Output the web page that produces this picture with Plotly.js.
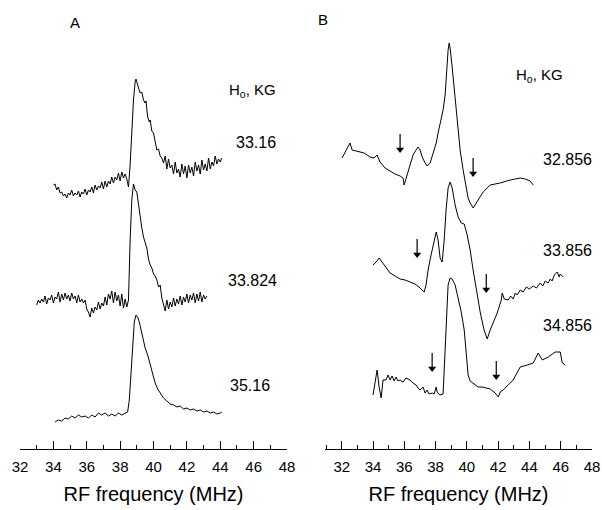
<!DOCTYPE html>
<html>
<head>
<meta charset="utf-8">
<script src="https://cdn.plot.ly/plotly-3.0.1.min.js"></script>
<style>html,body{margin:0;padding:0;background:#fff;}#chart{width:602px;height:510px;}</style>
</head>
<body>
<div id="chart"></div>
<script>
// ---------- Panel A (H0 in kG) ----------
const fieldsA = ['33.16', '33.824', '35.16'];
const freqA1 = [34.0,34.1,34.2,34.3,34.4,34.5,34.6,34.7,34.8,34.9,35.0,35.1,35.2,35.3,35.4,35.5,35.6,35.7,35.8,35.9,36.0,36.1,36.2,36.3,36.4,36.5,36.6,36.7,36.8,36.9,37.0,37.1,37.2,37.3,37.4,37.5,37.6,37.7,37.8,37.9,38.0,38.1,38.2,38.3,38.4,38.5,
  38.6,38.7,38.8,38.9,38.95,39.05,39.1,39.2,39.3,39.4,39.5,39.55,39.65,39.75,39.8,39.9,40.0,40.1,40.2,40.3,40.4,40.5,
  40.6,40.7,40.8,40.9,41.0,41.1,41.2,41.3,41.4,41.5,41.6,41.7,41.8,41.9,42.0,42.1,42.2,42.3,42.4,42.5,42.6,42.7,42.8,42.9,43.0,43.1,43.2,43.3,43.4,43.5,43.6,43.7,43.8,43.9,44.0,44.1];
const intA1 = [264,265,259,262,256,257,253,255,251,256,254,259,253,256,254,258,252,257,255,260,254,259,257,262,256,264,259,263,261,267,260,268,262,268,265,272,266,272,269,276,268,277,271,275,270,262,
  284,319,349,367,370,364,361,356,357,349,346,348,332,327,329,318,316,307,299,300,293,291,
  286,293,280,290,281,284,275,287,276,280,272,285,275,283,271,284,276,282,273,287,278,284,275,289,279,285,278,291,280,287,283,293,285,290,287,291];

const freqA2 = [33.0,33.1,33.2,33.3,33.4,33.5,33.6,33.7,33.8,33.9,34.0,34.1,34.2,34.3,34.4,34.5,34.6,34.7,34.8,34.9,35.0,35.1,35.2,35.3,35.4,35.5,35.6,35.7,35.8,35.9,36.0,36.1,36.2,36.3,36.4,36.5,36.6,36.7,36.8,36.9,37.0,37.1,37.2,37.3,37.4,37.5,37.6,37.7,37.8,37.9,38.0,38.1,38.2,38.3,38.4,38.5,
  38.6,38.7,38.8,38.9,39.0,39.1,39.2,39.3,39.4,39.5,39.6,39.7,39.8,39.9,40.0,40.1,40.2,40.3,40.4,40.5,40.6,40.7,40.8,40.9,41.0,41.1,41.2,41.3,41.4,41.5,41.6,41.7,41.8,41.9,42.0,42.1,42.2,42.3,42.4,42.5,42.6,42.7,42.8,42.9,43.0,43.1,43.2];
const intA2 = [144,149,146,150,147,153,145,151,149,154,146,152,150,157,147,155,149,156,150,154,148,156,150,153,146,154,147,150,146,149,140,137,132,141,136,142,139,147,140,146,143,152,144,155,150,158,146,157,148,154,143,155,141,150,142,149,
  209,249,265,259,257,244,229,221,212,207,201,190,184,181,175,173,169,162,164,151,144,138,149,140,147,142,151,143,150,145,153,144,152,147,155,146,154,149,156,146,155,148,157,147,154,150,153];

const freqA3 = [34.1,34.3,34.5,34.7,34.9,35.1,35.3,35.5,35.7,35.9,36.1,36.3,36.5,36.7,36.9,37.1,37.3,37.5,37.7,37.9,38.1,38.3,38.45,38.55,38.65,38.75,38.85,38.95,39.05,39.15,39.25,39.35,39.5,39.65,39.8,39.95,40.1,40.25,40.4,40.6,40.8,41.0,41.2,41.4,41.6,41.8,42.0,42.2,42.4,42.6,42.8,43.0,43.2,43.4,43.6,43.8,44.0,44.1];
const intA3 = [27,29,28,31,30,33,31,34,32,33,31,34,32,36,34,36,33,35,33,36,34,36,37,49,74,104,127,134,132,127,119,111,101,94,84,74,66,60,56,51,48,45,44,42,43,40,41,39,40,38,39,37,38,36,37,35,36,37];

// ---------- Panel B (H0 in kG) ----------
const fieldsB = ['32.856', '33.856', '34.856'];
const freqB1 = [32.02,32.53,32.66,32.92,33.17,33.43,33.81,34.07,34.26,34.45,34.77,35.09,35.41,35.73,35.92,35.99,36.24,36.56,36.75,36.88,37.01,37.14,37.33,37.46,37.65,37.84,38.04,38.16,38.35,38.48,38.61,38.67,38.80,38.87,38.93,39.06,39.19,39.32,39.44,39.57,39.76,39.89,40.08,40.21,40.40,40.60,40.72,41.04,41.49,42.13,42.77,43.41,43.73,44.05,44.24];
const intB1 = [291,306,299,298,297,296,292,291,294,287,281,278,275,273,271,264,277,294,299,302,299,292,286,283,286,296,306,316,329,339,354,372,399,406,401,382,359,339,319,299,279,266,251,246,241,246,249,257,264,266,269,271,270,268,264];

const freqB2 = [34.00,34.20,34.39,34.58,34.83,35.09,35.41,35.73,36.05,36.37,36.69,37.01,37.27,37.39,37.52,37.71,37.91,38.04,38.16,38.29,38.42,38.55,38.67,38.80,38.93,39.06,39.25,39.44,39.64,39.83,40.02,40.21,40.40,40.60,40.85,41.10,41.30,41.49,41.75,41.94,42.20,42.26,42.39,
  42.64,42.80,42.96,43.10,43.22,43.41,43.60,43.80,44.00,44.24,44.45,44.69,44.85,45.01,45.20,45.33,45.45,45.59,45.78,45.90,45.97,46.16];
const intB2 = [184,187,191,187,181,176,173,170,169,167,165,161,157,164,179,194,209,217,209,191,187,209,239,261,267,261,244,232,226,225,214,199,179,159,137,119,110,119,129,136,149,156,150,
  149,153,150,156,154,159,157,162,160,163,161,166,163,168,166,170,168,174,177,172,175,172];

const freqB3 = [34.00,34.13,34.26,34.39,34.52,34.64,34.83,34.96,35.09,35.22,35.35,35.47,35.60,35.73,35.92,36.11,36.37,36.56,36.75,36.88,37.01,37.20,37.33,37.46,37.58,37.78,37.91,38.04,38.10,38.29,38.48,38.55,38.67,38.80,38.93,39.06,39.25,39.44,39.64,39.83,39.96,40.08,40.21,40.40,40.72,40.98,41.24,41.49,41.81,42.01,42.13,42.32,42.96,43.41,43.86,44.24,44.56,44.82,45.20,45.65,45.97,46.10,46.29];
const intB3 = [54,66,79,62,51,69,69,74,69,73,68,72,68,69,67,71,69,66,64,61,59,62,56,59,55,56,55,62,57,54,55,79,129,164,171,170,164,152,137,119,99,74,68,66,62,62,61,60,56,52,57,59,69,82,84,86,96,89,92,97,97,86,84];

// arrows marking features in panel B spectra (frequency, intensity at arrow tip)
const arrowFreq = [35.73, 40.40, 36.82, 41.24, 37.78, 41.88];
const arrowInt  = [296, 272, 191, 156, 77, 69];

const tickVals = [32,34,36,38,40,42,44,46,48];
const tickText = ['32','34','36','38','40','42','44','46','48'];

const FONT = 'Liberation Sans, Arial, Helvetica, sans-serif';
const line = {color:'#000', width:1};
function tr(x, y, xa, ya){ return {x:x, y:y, xaxis:xa, yaxis:ya, type:'scatter', mode:'lines', line:line, hoverinfo:'skip', showlegend:false}; }

const data = [
  tr(freqA1,intA1,'x','y'), tr(freqA2,intA2,'x','y'), tr(freqA3,intA3,'x','y'),
  tr(freqB1,intB1,'x2','y2'), tr(freqB2,intB2,'x2','y2'), tr(freqB3,intB3,'x2','y2')
];

// arrows: shafts (line segments) and heads (triangle markers), built from the arrow arrays
const SHAFT = 19, HEAD = 3.5;
const shaftX = [], shaftY = [];
arrowFreq.forEach((f, i) => { shaftX.push(f, f, null); shaftY.push(arrowInt[i] + SHAFT, arrowInt[i] + HEAD, null); });
data.push({x:shaftX, y:shaftY, xaxis:'x2', yaxis:'y2', type:'scatter', mode:'lines', line:{color:'#000', width:1.2}, hoverinfo:'skip', showlegend:false});
data.push({x:arrowFreq, y:arrowInt.map(v => v + HEAD), xaxis:'x2', yaxis:'y2', type:'scatter', mode:'markers',
  marker:{symbol:'triangle-down', size:7, color:'#000', line:{width:0}}, hoverinfo:'skip', showlegend:false});

const W = 602, PH = 449; // plot area height in px
function px(x){ return x / W; }
function py(y){ return (PH - y) / PH; }

function xax(domain, range){
  return {
    domain: domain, range: range, showgrid:false, zeroline:false,
    showline:true, linecolor:'#000', linewidth:1,
    ticks:'inside', ticklen:8, tickwidth:1, tickcolor:'#000',
    tickvals: tickVals, ticktext: tickText,
    minor:{ticks:'inside', ticklen:4, tickwidth:1, tickcolor:'#000', dtick:1, tick0:31, showgrid:false},
    tickfont:{family:FONT, size:15, color:'#000'},
    ticklabelstandoff: 4,
    title:{text:'RF frequency (MHz)', font:{family:FONT, size:20, color:'#000'}, standoff:12},
    fixedrange:true
  };
}
function yax(){ return {range:[0, PH], visible:false, fixedrange:true, domain:[0,1]}; }

const annotations = [];
function label(text, x, y, size){
  annotations.push({text:text, xref:'paper', yref:'paper', x:px(x), y:py(y), xanchor:'center', yanchor:'middle', showarrow:false, font:{family:FONT, size:size, color:'#000'}});
}
label('A', 75, 23, 15);
label('B', 323, 19, 15);
label('H<sub>o</sub>, KG', 252, 91, 15);
label('H<sub>o</sub>, KG', 539, 75, 15);
label(fieldsA[0], 256, 142, 16);
label(fieldsA[1], 252, 280, 16);
label(fieldsA[2], 250, 385, 16);
label(fieldsB[0], 567, 159, 16);
label(fieldsB[1], 567, 250, 16);
label(fieldsB[2], 567, 325, 16);

const layout = {
  width: W, height: 510,
  margin:{l:0, r:0, t:0, b:510-PH, pad:0},
  paper_bgcolor:'#fff', plot_bgcolor:'#fff',
  showlegend:false,
  xaxis: Object.assign(xax([20/W, 287/W], [32, 48]), {anchor:'y'}),
  xaxis2: Object.assign(xax([325/W, 592/W], [30.93, 48]), {anchor:'y2'}),
  yaxis: yax(),
  yaxis2: Object.assign(yax(), {anchor:'x2'}),
  annotations: annotations,
  font:{family:FONT, color:'#000'}
};

Plotly.newPlot('chart', data, layout, {displayModeBar:false, staticPlot:true});
</script>
</body>
</html>
